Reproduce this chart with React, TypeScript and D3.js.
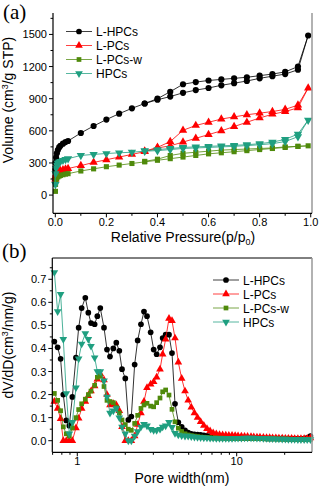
import * as d3 from 'd3';
import React from 'react';

// ---- (a) N2 isotherms: adsorption branch then desorption branch
const pAds = [0.0005, 0.001, 0.003, 0.006, 0.01, 0.015, 0.02, 0.03, 0.04, 0.05, 0.1, 0.15, 0.2, 0.25, 0.3, 0.35, 0.4, 0.45, 0.5, 0.55, 0.6, 0.65, 0.7, 0.75, 0.8, 0.85, 0.9, 0.95, 0.99];
const pDes = [0.95, 0.9, 0.85, 0.8, 0.75, 0.7, 0.65, 0.6, 0.55, 0.5, 0.45, 0.4, 0.35];

const lhpcsAds = [240, 300, 350, 390, 420, 445, 460, 480, 495, 505, 580, 645, 705, 760, 810, 855, 890, 920, 955, 980, 1000, 1025, 1045, 1065, 1090, 1110, 1130, 1170, 1490];
const lhpcsDes = [1200, 1150, 1130, 1115, 1100, 1090, 1080, 1070, 1055, 1035, 965, 900, 855];
const lpcsAds = [150, 175, 195, 205, 215, 222, 228, 236, 243, 248, 275, 305, 330, 355, 380, 405, 440, 460, 495, 530, 565, 600, 640, 680, 720, 755, 780, 815, 1000];
const lpcsDes = [840, 800, 780, 765, 750, 730, 710, 680, 650, 605, 500, 445, 410];
const lpcswAds = [35, 100, 140, 160, 170, 178, 183, 190, 196, 200, 225, 245, 265, 280, 295, 310, 325, 340, 355, 370, 385, 395, 405, 415, 425, 435, 445, 455, 460];
const lpcswDes = [455, 450, 440, 435, 430, 425, 420, 410, 400, 390, 370, 335, 315];
const hpcsAds = [100, 200, 250, 280, 298, 308, 315, 325, 333, 340, 370, 380, 388, 395, 400, 410, 415, 425, 435, 440, 445, 450, 455, 462, 470, 480, 500, 545, 700];
const hpcsDes = [570, 520, 495, 480, 470, 465, 460, 455, 450, 445, 435, 425, 415];

// ---- (b) pore size distribution
const poreW = [0.718, 0.753, 0.786, 0.817, 0.853, 0.891, 0.931, 0.981, 1.020, 1.065, 1.123, 1.173, 1.219, 1.285, 1.336, 1.394, 1.471, 1.536, 1.604, 1.683, 1.757, 1.835, 1.908, 2.001, 2.090, 2.183, 2.290, 2.392, 2.509, 2.621, 2.737, 2.886, 3.014, 3.147, 3.303, 3.432, 3.584, 3.761, 3.928, 4.102, 4.304, 4.517, 4.740,
  4.96, 5.19, 5.43, 5.68, 5.94, 6.22, 6.51, 6.81, 7.12, 7.45, 7.80, 8.16, 8.54, 8.93, 9.35, 9.78, 10.2, 10.7, 11.2, 11.7, 12.3, 12.8, 13.4, 14.0, 14.7, 15.4, 16.1, 16.8, 17.6, 18.4, 19.3, 20.2, 21.1, 22.1, 23.1, 24.2, 25.3, 26.5, 27.7, 29.0];

const lhpcsPsd = [0.43, 0.405, 0.355, 0.2, 0.088, 0.065, 0.19, 0.36, 0.49, 0.575, 0.62, 0.555, 0.51, 0.505, 0.54, 0.575, 0.49, 0.395, 0.365, 0.40, 0.425, 0.39, 0.31, 0.27, 0.09, 0.105, 0.33, 0.435, 0.505, 0.56, 0.54, 0.47, 0.395, 0.375, 0.405, 0.445, 0.46, 0.46, 0.38, 0.16, 0.08, 0.06, 0.045,
  0.035, 0.03, 0.028, 0.027, 0.025, 0.023, 0.021, 0.02, 0.019, 0.018, 0.017, 0.016, 0.015, 0.015, 0.014, 0.014, 0.013, 0.013, 0.012, 0.012, 0.012, 0.011, 0.011, 0.011, 0.011, 0.01, 0.01, 0.01, 0.01, 0.01, 0.01, 0.009, 0.009, 0.009, 0.009, 0.008, 0.008, 0.009, 0.012, 0.02];
const lpcsPsd = [0.17, 0.14, 0.095, 0.0, 0.0, 0.0, 0.0, 0.055, 0.097, 0.14, 0.17, 0.195, 0.215, 0.237, 0.266, 0.29, 0.263, 0.2, 0.155, 0.16, 0.155, 0.13, 0.06, 0.0, 0.0, 0.0, 0.02, 0.07, 0.12, 0.17, 0.23, 0.245, 0.255, 0.275, 0.31, 0.375, 0.44, 0.53, 0.52, 0.445, 0.34, 0.27, 0.215,
  0.175, 0.145, 0.12, 0.10, 0.082, 0.066, 0.052, 0.042, 0.034, 0.029, 0.026, 0.025, 0.024, 0.023, 0.023, 0.022, 0.021, 0.02, 0.019, 0.018, 0.017, 0.016, 0.015, 0.015, 0.014, 0.013, 0.013, 0.012, 0.012, 0.011, 0.011, 0.01, 0.01, 0.01, 0.009, 0.009, 0.009, 0.009, 0.01, 0.012];
const lpcswPsd = [0.205, 0.175, 0.13, 0.06, 0.03, 0.02, 0.055, 0.1, 0.135, 0.16, 0.18, 0.2, 0.215, 0.24, 0.275, 0.28, 0.235, 0.175, 0.17, 0.165, 0.145, 0.12, 0.09, 0.07, 0.05, 0.045, 0.075, 0.11, 0.14, 0.155, 0.162, 0.15, 0.147, 0.165, 0.185, 0.212, 0.22, 0.198, 0.136, 0.082, 0.054, 0.04, 0.03,
  0.025, 0.022, 0.02, 0.018, 0.016, 0.015, 0.014, 0.013, 0.012, 0.012, 0.011, 0.011, 0.01, 0.01, 0.01, 0.01, 0.01, 0.01, 0.01, 0.01, 0.01, 0.009, 0.009, 0.009, 0.009, 0.008, 0.008, 0.008, 0.008, 0.007, 0.007, 0.007, 0.007, 0.006, 0.006, 0.006, 0.006, 0.006, 0.006, 0.006];
const hpcsPsd = [0.73, 0.56, 0.635, 0.44, 0.205, 0.03, 0.08, 0.23, 0.355, 0.42, 0.465, 0.44, 0.41, 0.36, 0.3, 0.3, 0.26, 0.19, 0.12, 0.13, 0.14, 0.1, 0.06, 0.03, 0.0, 0.0, 0.02, 0.04, 0.06, 0.072, 0.065, 0.05, 0.045, 0.045, 0.05, 0.06, 0.065, 0.08, 0.058, 0.032, 0.025, 0.022, 0.02,
  0.02, 0.018, 0.016, 0.015, 0.014, 0.013, 0.012, 0.011, 0.011, 0.01, 0.01, 0.01, 0.01, 0.01, 0.01, 0.011, 0.011, 0.011, 0.012, 0.012, 0.012, 0.012, 0.011, 0.011, 0.01, 0.01, 0.009, 0.009, 0.008, 0.008, 0.007, 0.007, 0.006, 0.006, 0.006, 0.005, 0.005, 0.005, 0.005, 0.005];

const seriesNames = ['L-HPCs', 'L-PCs', 'L-PCs-w', 'HPCs'];
const seriesColors = ['#000000', '#ff0000', '#4f8a0b', '#1f9f80'];
const seriesShapes = ['circle', 'up', 'square', 'down'];

const topYTicks = [0, 300, 600, 900, 1200, 1500];
const topXTicks = [0, 0.2, 0.4, 0.6, 0.8, 1.0];
const botYTicks = [0, 0.1, 0.2, 0.3, 0.4, 0.5, 0.6, 0.7];
const botXTicks = [1, 10];

const SANS = '"Liberation Sans", Arial, sans-serif';
const SERIF = '"Liberation Serif", "Times New Roman", serif';

const symPath = (shape, big) => {
  const s = big ? 1 : 0.85;
  if (shape === 'circle') return d3.symbol().type(d3.symbolCircle).size(30 * s)();
  if (shape === 'square') return d3.symbol().type(d3.symbolSquare).size(26 * s)();
  return d3.symbol().type(d3.symbolTriangle).size(30 * s)();
};

function Mark({ shape, x, y, color, big }) {
  const rot = shape === 'down' ? ' rotate(180)' : '';
  return <path d={symPath(shape, big)} transform={`translate(${x},${y})${rot}`} fill={color} />;
}

function Legend({ x, y }) {
  return (
    <g>
      {seriesNames.map((n, i) => (
        <g key={n}>
          <line x1={x} x2={x + 26} y1={y + i * 14} y2={y + i * 14} stroke={seriesColors[i]} strokeOpacity={0.75} strokeWidth={1} />
          <Mark shape={seriesShapes[i]} x={x + 13} y={y + i * 14} color={seriesColors[i]} big={false} />
          <text x={x + 30} y={y + i * 14 + 4.5} fontFamily={SANS} fontSize={12}>{n}</text>
        </g>
      ))}
    </g>
  );
}

function TopPanel() {
  const L = 53, R = 312, T = 13, B = 213.3;
  const x = d3.scaleLinear().domain([-0.009, 1.005]).range([L, R]);
  const y = d3.scaleLinear().domain([-170, 1700]).range([B, T]);
  const line = d3.line().x(d => x(d[0])).y(d => y(d[1]));
  const sets = [[lhpcsAds, lhpcsDes], [lpcsAds, lpcsDes], [lpcswAds, lpcswDes], [hpcsAds, hpcsDes]];
  const minorY = d3.range(150, 1700, 300);
  const minorX = d3.range(0.1, 1.0, 0.2);
  return (
    <g>
      {sets.map(([a, d], i) => {
        const pts = pAds.map((p, k) => [p, a[k]]).concat(pDes.map((p, k) => [p, d[k]]));
        return (
          <g key={i}>
            <path d={line(pts)} fill="none" stroke={seriesColors[i]} strokeOpacity={0.8} strokeWidth={1} />
            {pts.map((q, k) => <Mark key={k} shape={seriesShapes[i]} x={x(q[0])} y={y(q[1])} color={seriesColors[i]} big />)}
          </g>
        );
      })}
      <line x1={R} x2={R} y1={T} y2={B} stroke="#999" strokeWidth={1.5} />
      <line x1={L} x2={L} y1={T} y2={B} stroke="#000" strokeWidth={1.2} />
      <line x1={L} x2={R} y1={B} y2={B} stroke="#000" strokeWidth={1.2} />
      {topYTicks.map(t => (
        <g key={t}>
          <line x1={L - 4} x2={L} y1={y(t)} y2={y(t)} stroke="#000" />
          <text x={L - 6} y={y(t) + 4} textAnchor="end" fontFamily={SANS} fontSize={11}>{t}</text>
        </g>
      ))}
      {minorY.map(t => <line key={t} x1={L - 2.5} x2={L} y1={y(t)} y2={y(t)} stroke="#000" />)}
      {topXTicks.map(t => (
        <g key={t}>
          <line x1={x(t)} x2={x(t)} y1={B} y2={B + 4} stroke="#000" />
          <text x={x(t)} y={B + 13} textAnchor="middle" fontFamily={SANS} fontSize={11}>{t.toFixed(1)}</text>
        </g>
      ))}
      {minorX.map(t => <line key={t} x1={x(t)} x2={x(t)} y1={B} y2={B + 2.5} stroke="#000" />)}
      <text x={183} y={242} textAnchor="middle" fontFamily={SANS} fontSize={14}>
        Relative Pressure(p/p<tspan fontSize={9} dy={3}>0</tspan><tspan dy={-3}>)</tspan>
      </text>
      <text transform="translate(13,100) rotate(-90)" textAnchor="middle" fontFamily={SANS} fontSize={14}>
        Volume (cm<tspan fontSize={9} dy={-5}>3</tspan><tspan dy={5}>/g STP)</tspan>
      </text>
      <Legend x={66} y={31.5} />
      <text x={3} y={19} fontFamily={SERIF} fontSize={21}>(a)</text>
    </g>
  );
}

function BottomPanel() {
  const L = 52.3, R = 312, T = 258, B = 452.3;
  const x = d3.scaleLog().domain([0.697, 29.68]).range([L, R]);
  const y = d3.scaleLinear().domain([-0.0503, 0.7923]).range([B, T]);
  const line = d3.line().x(d => x(d[0])).y(d => y(d[1]));
  const sets = [lhpcsPsd, lpcsPsd, lpcswPsd, hpcsPsd];
  const minorY = d3.range(0.05, 0.8, 0.1);
  const minorX = [0.7, 0.8, 0.9, 2, 3, 4, 5, 6, 7, 8, 9, 20];
  return (
    <g>
      {sets.map((vals, i) => {
        const pts = poreW.map((w, k) => [w, vals[k]]);
        return (
          <g key={i}>
            <path d={line(pts)} fill="none" stroke={seriesColors[i]} strokeOpacity={0.8} strokeWidth={1} />
            {pts.map((q, k) => <Mark key={k} shape={seriesShapes[i]} x={x(q[0])} y={y(q[1])} color={seriesColors[i]} big={false} />)}
          </g>
        );
      })}
      <line x1={L} x2={R} y1={T} y2={T} stroke="#000" strokeWidth={1} />
      <line x1={R} x2={R} y1={T} y2={B} stroke="#999" strokeWidth={1.5} />
      <line x1={L} x2={L} y1={T} y2={B} stroke="#000" strokeWidth={1.2} />
      <line x1={L} x2={R} y1={B} y2={B} stroke="#000" strokeWidth={1.2} />
      {botYTicks.map(t => (
        <g key={t}>
          <line x1={L - 4} x2={L} y1={y(t)} y2={y(t)} stroke="#000" />
          <text x={L - 6} y={y(t) + 4} textAnchor="end" fontFamily={SANS} fontSize={11}>{t.toFixed(1)}</text>
        </g>
      ))}
      {minorY.map(t => <line key={t} x1={L - 2.5} x2={L} y1={y(t)} y2={y(t)} stroke="#000" />)}
      {botXTicks.map(t => (
        <g key={t}>
          <line x1={x(t)} x2={x(t)} y1={B} y2={B + 4} stroke="#000" />
          <text x={x(t)} y={B + 13} textAnchor="middle" fontFamily={SANS} fontSize={11}>{t}</text>
        </g>
      ))}
      {minorX.map(t => <line key={t} x1={x(t)} x2={x(t)} y1={B} y2={B + 2.5} stroke="#000" />)}
      <text x={182} y={483} textAnchor="middle" fontFamily={SANS} fontSize={14}>Pore width(nm)</text>
      <text transform="translate(13,345) rotate(-90)" textAnchor="middle" fontFamily={SANS} fontSize={14}>
        dV/dD(cm<tspan fontSize={9} dy={-5}>3</tspan><tspan dy={5}>/nm/g)</tspan>
      </text>
      <Legend x={213} y={280} />
      <text x={2} y={258} fontFamily={SERIF} fontSize={21}>(b)</text>
    </g>
  );
}

export default function App() {
  return (
    <svg width={321} height={491} style={{ position: 'absolute', left: 0, top: 0, background: '#fff' }}>
      <rect width={321} height={491} fill="#fff" />
      <TopPanel />
      <BottomPanel />
    </svg>
  );
}
